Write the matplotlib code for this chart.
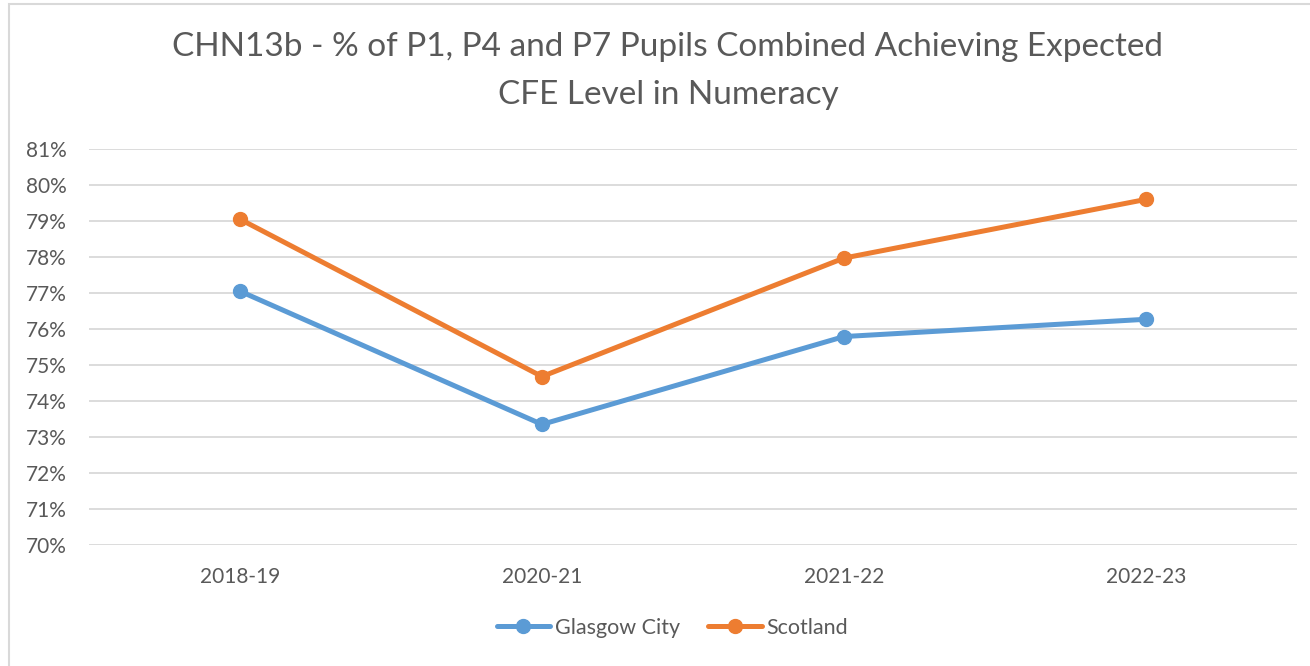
import matplotlib
matplotlib.use("Agg")
import matplotlib.pyplot as plt
from matplotlib.patches import Rectangle
from matplotlib.ticker import FuncFormatter

years = ["2018-19", "2020-21", "2021-22", "2022-23"]
glasgow = [77.05, 73.35, 75.79, 76.27]
scotland = [79.05, 74.68, 77.97, 79.60]

blue = "#5B9BD5"
orange = "#ED7D31"
grey_text = "#595959"
grid_col = "#D9D9D9"

plt.rcParams['font.family'] = ['Lato', 'DejaVu Sans']

W, H = 1310, 666
fig = plt.figure(figsize=(W / 100, H / 100), dpi=100)

# chart border (Excel style)
fig.patches.append(Rectangle((9 / W, -0.05), 1.2, 1 - 4 / H + 0.05,
                             transform=fig.transFigure, fill=False,
                             edgecolor=grid_col, linewidth=1.5))

ax = fig.add_axes([89 / W, (H - 545) / H, 1208 / W, 396 / H])
x = range(len(years))
ax.plot(x, glasgow, color=blue, linewidth=3.6, marker='o', markersize=10,
        label="Glasgow City", solid_capstyle='round')
ax.plot(x, scotland, color=orange, linewidth=3.6, marker='o', markersize=10,
        label="Scotland", solid_capstyle='round')

ax.set_xlim(-0.5, len(years) - 0.5)
ax.set_ylim(70, 81)
ax.set_yticks(range(70, 82))
ax.yaxis.set_major_formatter(FuncFormatter(lambda v, p: f"{v:.0f}%"))
ax.set_xticks(list(x))
ax.set_xticklabels(years)
ax.grid(axis='y', color=grid_col, linewidth=1.3)
ax.set_axisbelow(True)
for s in ax.spines.values():
    s.set_visible(False)
ax.tick_params(axis='both', length=0, labelsize=15, labelcolor=grey_text)
ax.tick_params(axis='y', pad=16)
ax.tick_params(axis='x', pad=16)

fig.text(668 / W, 1 - 47 / H, "CHN13b - % of P1, P4 and P7 Pupils Combined Achieving Expected",
         ha='center', va='center', fontsize=24, color=grey_text)
fig.text(668 / W, 1 - 95 / H, "CFE Level in Numeracy",
         ha='center', va='center', fontsize=24, color=grey_text)

fig.legend(loc='center', bbox_to_anchor=(672 / W, 1 - 628 / H), ncol=2, frameon=False,
           fontsize=15.5, labelcolor=grey_text, handlelength=2.5, columnspacing=1.3,
           handletextpad=0.2)

fig.savefig("out.png", dpi=100)
